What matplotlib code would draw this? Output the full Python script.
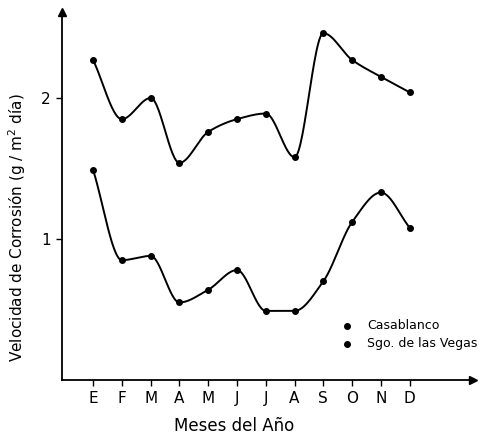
"""
Velocidad de corrosion mensual - Casablanca y Sgo. de las Vegas
Output: out.png
"""

import matplotlib.pyplot as plt
import numpy as np

months = ["E", "F", "M", "A", "M", "J", "J", "A", "S", "O", "N", "D"]

casablanca = [2.27, 1.85, 2.00, 1.54, 1.76, 1.85, 1.89, 1.58, 2.46, 2.27, 2.15, 2.04]
vegas = [1.49, 0.85, 0.88, 0.55, 0.64, 0.78, 0.49, 0.49, 0.70, 1.12, 1.33, 1.08]

series_names = ["Casablanco", "Sgo. de las Vegas"]
y_ticks = [1, 2]


def pchip_slopes(x, y):
    h = np.diff(x)
    d = np.diff(y) / h
    m = np.zeros_like(y)
    for k in range(1, len(y) - 1):
        if d[k - 1] * d[k] > 0:
            w1 = 2 * h[k] + h[k - 1]
            w2 = h[k] + 2 * h[k - 1]
            m[k] = (w1 + w2) / (w1 / d[k - 1] + w2 / d[k])
    m[0] = d[0]
    m[-1] = d[-1]
    return m


def smooth(x, y, n=30):
    # monotone cubic through the points, only for drawing the curve
    x = np.asarray(x, float)
    y = np.asarray(y, float)
    m = pchip_slopes(x, y)
    xs, ys = [], []
    for i in range(len(x) - 1):
        t = np.linspace(0, 1, n)
        h = x[i + 1] - x[i]
        h00 = 2 * t**3 - 3 * t**2 + 1
        h10 = t**3 - 2 * t**2 + t
        h01 = -2 * t**3 + 3 * t**2
        h11 = t**3 - t**2
        xs.append(x[i] + t * h)
        ys.append(h00 * y[i] + h10 * h * m[i] + h01 * y[i + 1] + h11 * h * m[i + 1])
    return np.concatenate(xs), np.concatenate(ys)


fig = plt.figure(figsize=(4.88, 4.34), dpi=100)
ax = fig.add_axes([62 / 488, 54 / 434, 411 / 488, 368 / 434])

x = np.arange(len(months))

for values in (casablanca, vegas):
    xs, ys = smooth(x, values)
    ax.plot(xs, ys, color="black", linewidth=1.4)
    ax.plot(x, values, "o", color="black", markersize=4)

ax.set_xlim(-1.08, 13.2)
ax.set_ylim(0, 2.61)

ax.spines["top"].set_visible(False)
ax.spines["right"].set_visible(False)
ax.spines["left"].set_linewidth(1.3)
ax.spines["bottom"].set_linewidth(1.3)

# arrow heads on the axes
ax.plot(1, 0, ">k", markersize=6, transform=ax.transAxes, clip_on=False)
ax.plot(0, 1, "^k", markersize=6, transform=ax.transAxes, clip_on=False)

ax.set_xticks(x)
ax.set_xticklabels(months, fontsize=11)
ax.set_yticks(y_ticks)
ax.set_yticklabels([str(v) for v in y_ticks], fontsize=11)
ax.tick_params(direction="out", length=4, width=1, pad=4)

ax.set_xlabel("Meses del Año", fontsize=12, va="center")
ax.xaxis.set_label_coords(0.42, -0.126)
ax.set_ylabel("Velocidad de Corrosión (g / m$^2$ día)", fontsize=11)
ax.yaxis.set_label_coords(-0.083, 0.413)

# legend drawn by hand
for i, name in enumerate(series_names):
    yy = 0.147 - i * 0.049
    ax.plot(0.693, yy, "o", color="black", markersize=4, transform=ax.transAxes)
    ax.text(0.742, yy, name, fontsize=9, va="center", transform=ax.transAxes)

plt.savefig("out.png", dpi=100)
plt.close()
